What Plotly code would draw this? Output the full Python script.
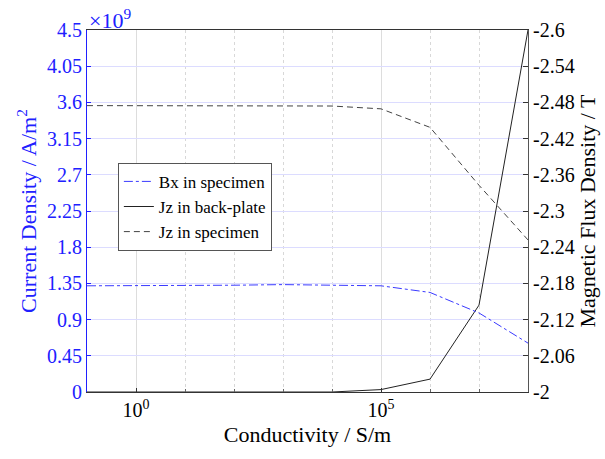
import plotly.graph_objects as go

# Data
conductivity = [1e-1, 1e0, 1e1, 1e2, 1e3, 1e4, 1e5, 1e6, 1e7, 1e8]
bx_specimen = [-2.176, -2.176, -2.176, -2.177, -2.178, -2.177, -2.176, -2.165, -2.131, -2.081]  # T
jz_backplate = [0.0, 0.0, 0.0, 0.0, 0.0, 0.0, 0.03, 0.16, 1.08, 4.5]  # x1e9 A/m^2
jz_specimen = [3.56, 3.56, 3.56, 3.56, 3.56, 3.555, 3.52, 3.29, 2.57, 1.89]  # x1e9 A/m^2

left_ticks = [0, 0.45, 0.9, 1.35, 1.8, 2.25, 2.7, 3.15, 3.6, 4.05, 4.5]
left_labels = ["0", "0.45", "0.9", "1.35", "1.8", "2.25", "2.7", "3.15", "3.6", "4.05", "4.5"]
right_ticks = [-2, -2.06, -2.12, -2.18, -2.24, -2.3, -2.36, -2.42, -2.48, -2.54, -2.6]
right_labels = ["-2", "-2.06", "-2.12", "-2.18", "-2.24", "-2.3", "-2.36", "-2.42", "-2.48", "-2.54", "-2.6"]
x_major = [1e0, 1e5]
x_major_labels = ["10<sup>0</sup>", "10<sup>5</sup>"]
x_minor = [1e-1, 1e1, 1e2, 1e3, 1e4, 1e6, 1e7, 1e8]

FONT = "Liberation Serif, Times New Roman, serif"
BLUE = "#2020ff"

fig = go.Figure()
fig.add_trace(go.Scatter(x=conductivity, y=bx_specimen, name="Bx in specimen", yaxis="y2",
                         mode="lines", line=dict(color="#3a3aff", width=1, dash="dashdot")))
fig.add_trace(go.Scatter(x=conductivity, y=jz_backplate, name="Jz in back-plate",
                         mode="lines", line=dict(color="#222222", width=1)))
fig.add_trace(go.Scatter(x=conductivity, y=jz_specimen, name="Jz in specimen",
                         mode="lines", line=dict(color="#444444", width=1, dash="6px,4px")))

fig.update_layout(
    width=605, height=459,
    margin=dict(l=87, r=77, t=30, b=67),
    paper_bgcolor="white", plot_bgcolor="white",
    font=dict(family=FONT, size=20, color="black"),
    showlegend=True,
    legend=dict(x=0.07, y=0.633, xanchor="left", yanchor="top",
                bgcolor="white", bordercolor="#555555", borderwidth=1,
                font=dict(family=FONT, size=17), tracegroupgap=0,
                itemwidth=30),
    xaxis=dict(type="log", range=[-1, 8],
               tickmode="array", tickvals=x_major, ticktext=x_major_labels,
               showgrid=True, gridcolor="#dddddd", gridwidth=1,
               ticks="inside", ticklen=4, tickcolor="#333333",
               showline=True, linecolor="#333333", linewidth=1, mirror=True,
               minor=dict(tickmode="array", tickvals=x_minor, showgrid=True,
                          gridcolor="#d8d8d8", griddash="dot", ticks="inside",
                          ticklen=3, tickcolor="#666666"),
               title=dict(text="Conductivity / S/m", font=dict(size=22), standoff=6),
               tickfont=dict(size=20), zeroline=False),
    yaxis=dict(range=[0, 4.5], tickmode="array", tickvals=left_ticks, ticktext=left_labels,
               showgrid=True, gridcolor="#dcdcff", gridwidth=1,
               ticks="inside", ticklen=4, tickcolor=BLUE,
               showline=True, linecolor=BLUE, linewidth=1,
               tickfont=dict(size=20, color=BLUE),
               title=dict(text="Current Density / A/m<sup>2</sup>", font=dict(size=22, color=BLUE), standoff=4),
               zeroline=False),
    yaxis2=dict(range=[-2, -2.6], overlaying="y", side="right",
                tickmode="array", tickvals=right_ticks, ticktext=right_labels,
                showgrid=False, ticks="inside", ticklen=5, tickcolor="#333333",
                showline=True, linecolor="#555555", linewidth=1,
                tickfont=dict(size=20, color="black"),
                title=dict(text="Magnetic Flux Density / T", font=dict(size=22, color="black"), standoff=4),
                zeroline=False),
)

fig.add_annotation(xref="paper", yref="paper", x=0.0, y=1.0, xanchor="left", yanchor="bottom",
                   text="×10<sup>9</sup>", showarrow=False,
                   font=dict(family=FONT, size=22, color=BLUE), yshift=-5)

fig.write_html("out.html")
